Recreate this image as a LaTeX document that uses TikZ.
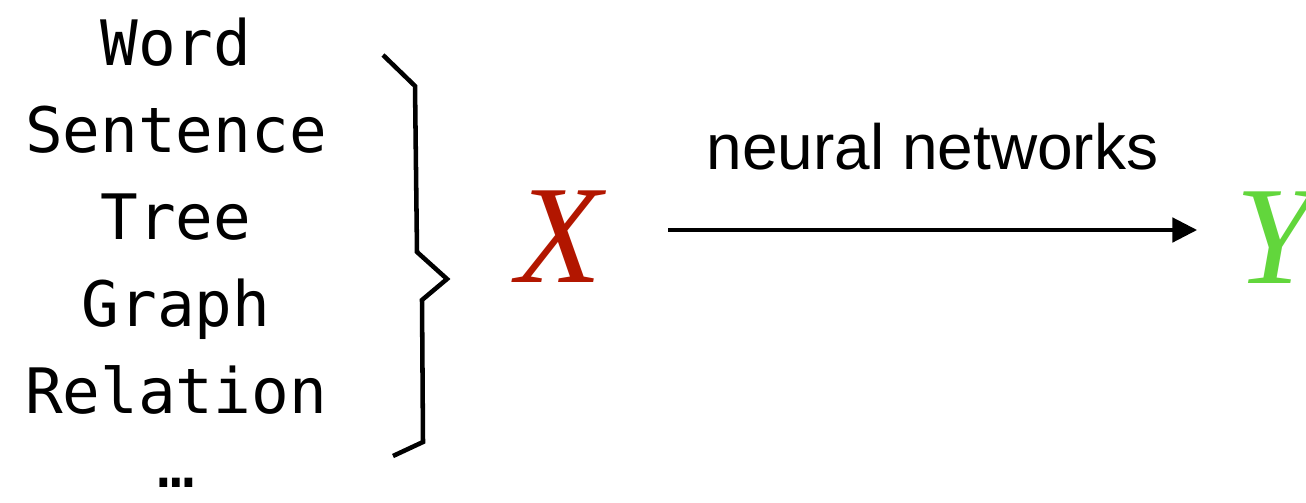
\documentclass[tikz,border=0pt]{standalone}
\usepackage{fontspec}
\setmainfont{Liberation Serif}
\setsansfont{Liberation Sans}
\setmonofont{DejaVu Sans Mono}
\usetikzlibrary{arrows.meta,positioning}
\definecolor{InputRed}{RGB}{178,22,0}
\definecolor{OutputGreen}{RGB}{98,214,60}

\begin{document}
\begin{tikzpicture}[x=0.75pt,y=-0.75pt,>={Triangle[length=18.5pt,width=18.5pt]}]
  \tikzset{kind/.style={font=\fontsize{47}{47}\selectfont\ttfamily,anchor=base,inner sep=0pt},
    var/.style={font=\fontsize{105}{105}\selectfont\itshape,anchor=base,inner sep=0pt}}
  \useasboundingbox (0,0) rectangle (1306,503);
  \node[kind] (word) at (176,65) {Word};
  \node[kind] (sent) at (176,152) {Sentence};
  \node[kind] (tree) at (176,239) {Tree};
  \node[kind] (graph) at (176,326) {Graph};
  \node[kind] (rel) at (176,413) {Relation};
  \node[kind] (more) at (176,487) {…};
  % brace
  \draw[line width=3.4pt,line join=miter] (383,55) -- (415,86) -- (417,252)
    -- (447,279) -- (422,300) -- (423,442) -- (393,456);
  \node[var,text=InputRed] (inX) at (559,282) {X};
  \node[var,text=OutputGreen] (outY) at (1274,283) {Y};
  \coordinate (arrS) at (668,230);
  \coordinate (arrE) at (1197,230);
  \draw[->,line width=2.3pt] (arrS) -- (arrE)
    node[midway,above=43.5pt,inner sep=0pt,font=\fontsize{48}{48}\selectfont\sffamily] (nn) {neural networks};
\end{tikzpicture}
\end{document}
